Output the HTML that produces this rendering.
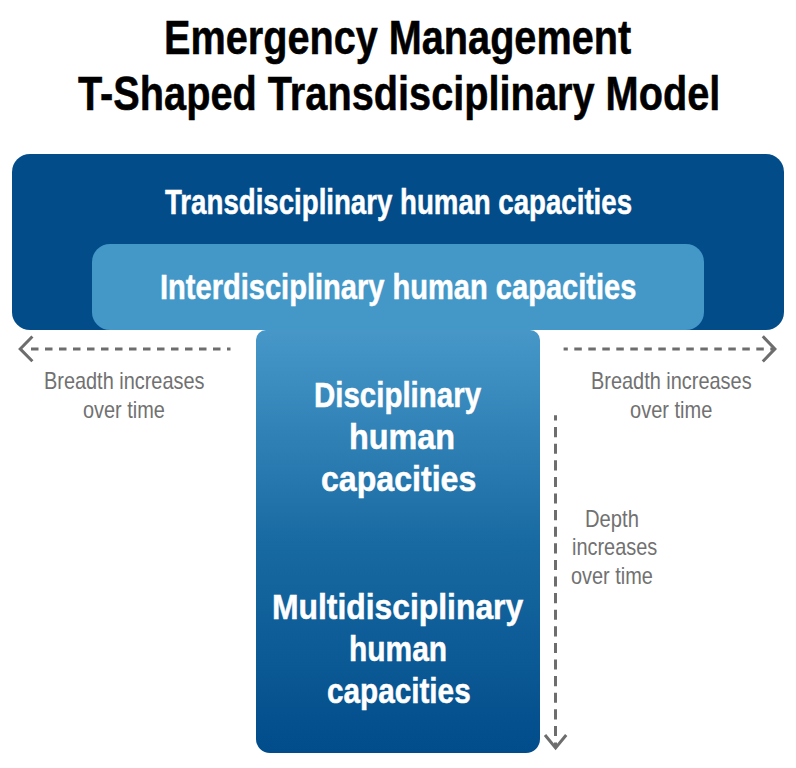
<!DOCTYPE html>
<html><head><meta charset="utf-8"><style>
html,body{margin:0;padding:0;background:#fff;width:796px;height:768px;overflow:hidden}
.t{position:absolute;font-family:"Liberation Sans",sans-serif;line-height:1;white-space:nowrap;transform-origin:0 0}
.box{position:absolute}
</style></head><body>
<div class="box" style="left:12px;top:154px;width:771.8px;height:175.5px;background:#024c8a;border-radius:18px"></div>
<div class="box" style="left:92px;top:244px;width:612px;height:86px;background:#4498c8;border-radius:18px"></div>
<div class="box" style="left:256px;top:329.5px;width:284px;height:423.5px;background:linear-gradient(#4798c9 0%,rgb(24,106,162) 50%,#014c8b 100%);border-radius:10px 10px 14px 14px"></div>
<svg width="796" height="768" style="position:absolute;left:0;top:0" fill="none" stroke="#6d6d6d">
<line x1="31" y1="349" x2="230.5" y2="349" stroke-width="3" stroke-dasharray="7.5 6.5"/>
<polyline points="32.4,336.5 20.2,348.9 32.4,361.3" stroke-width="3"/>
<line x1="563.6" y1="349" x2="775" y2="349" stroke-width="3" stroke-dasharray="7.5 6.5" stroke-dashoffset="3.3"/>
<polyline points="762.8,336.3 774.9,348.9 762.8,361.5" stroke-width="3"/>
<line x1="555.5" y1="415.3" x2="555.5" y2="748" stroke-width="3" stroke-dasharray="10.1 6.5" stroke-dashoffset="4.8"/>
<polyline points="545,735 555.6,748 566.2,735" stroke-width="3"/>
</svg>
<div class="t" style="left:164.32px;top:13.50px;font-size:48px;font-weight:700;color:#000;transform:scaleX(0.8260);-webkit-text-stroke:0.5px #000">Emergency Management</div>
<div class="t" style="left:77.59px;top:69.50px;font-size:48px;font-weight:700;color:#000;transform:scaleX(0.8275);-webkit-text-stroke:0.5px #000">T-Shaped Transdisciplinary Model</div>
<div class="t" style="left:165.01px;top:183.90px;font-size:35px;font-weight:700;color:#fff;transform:scaleX(0.7898);-webkit-text-stroke:0.5px #fff">Transdisciplinary human capacities</div>
<div class="t" style="left:159.93px;top:269.30px;font-size:35px;font-weight:700;color:#fff;transform:scaleX(0.8302);-webkit-text-stroke:0.5px #fff">Interdisciplinary human capacities</div>
<div class="t" style="left:314.21px;top:377.20px;font-size:35px;font-weight:700;color:#fff;transform:scaleX(0.8419);-webkit-text-stroke:0.5px #fff">Disciplinary</div>
<div class="t" style="left:349.29px;top:418.60px;font-size:35px;font-weight:700;color:#fff;transform:scaleX(0.9245);-webkit-text-stroke:0.5px #fff">human</div>
<div class="t" style="left:320.62px;top:460.60px;font-size:35px;font-weight:700;color:#fff;transform:scaleX(0.9173);-webkit-text-stroke:0.5px #fff">capacities</div>
<div class="t" style="left:271.65px;top:588.80px;font-size:35px;font-weight:700;color:#fff;transform:scaleX(0.9097);-webkit-text-stroke:0.5px #fff">Multidisciplinary</div>
<div class="t" style="left:348.96px;top:630.60px;font-size:35px;font-weight:700;color:#fff;transform:scaleX(0.8555);-webkit-text-stroke:0.5px #fff">human</div>
<div class="t" style="left:326.53px;top:672.80px;font-size:35px;font-weight:700;color:#fff;transform:scaleX(0.8487);-webkit-text-stroke:0.5px #fff">capacities</div>
<div class="t" style="left:43.84px;top:369.30px;font-size:24px;font-weight:400;color:#717171;transform:scaleX(0.8294);-webkit-text-stroke:0px #717171">Breadth increases</div>
<div class="t" style="left:82.87px;top:398.00px;font-size:24px;font-weight:400;color:#717171;transform:scaleX(0.8300);-webkit-text-stroke:0px #717171">over time</div>
<div class="t" style="left:590.74px;top:369.30px;font-size:24px;font-weight:400;color:#717171;transform:scaleX(0.8304);-webkit-text-stroke:0px #717171">Breadth increases</div>
<div class="t" style="left:629.77px;top:398.00px;font-size:24px;font-weight:400;color:#717171;transform:scaleX(0.8341);-webkit-text-stroke:0px #717171">over time</div>
<div class="t" style="left:585.42px;top:507.00px;font-size:24px;font-weight:400;color:#717171;transform:scaleX(0.8413);-webkit-text-stroke:0px #717171">Depth</div>
<div class="t" style="left:572.06px;top:534.50px;font-size:24px;font-weight:400;color:#717171;transform:scaleX(0.8299);-webkit-text-stroke:0px #717171">increases</div>
<div class="t" style="left:571.17px;top:563.60px;font-size:24px;font-weight:400;color:#717171;transform:scaleX(0.8300);-webkit-text-stroke:0px #717171">over time</div>
</body></html>
